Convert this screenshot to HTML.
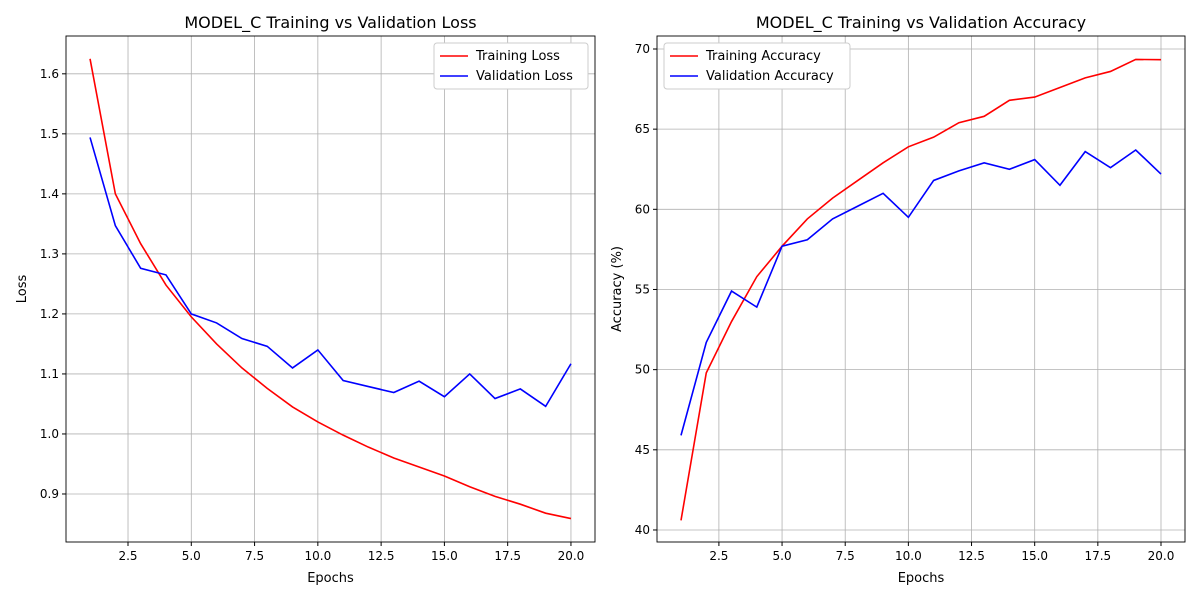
<!DOCTYPE html>
<html><head><meta charset="utf-8"><style>body{margin:0;background:#fff}svg text{font-family:"DejaVu Sans","Liberation Sans",sans-serif}</style></head>
<body>
<svg id="c" width="1200" height="600" xmlns="http://www.w3.org/2000/svg"></svg>
<script>
const epochs=[1,2,3,4,5,6,7,8,9,10,11,12,13,14,15,16,17,18,19,20];
const trainLoss=[1.625,1.40,1.317,1.248,1.195,1.150,1.110,1.076,1.045,1.020,0.998,0.978,0.960,0.945,0.930,0.912,0.896,0.883,0.868,0.859];
const valLoss=[1.494,1.347,1.276,1.265,1.200,1.185,1.159,1.146,1.110,1.140,1.089,1.079,1.069,1.088,1.062,1.100,1.059,1.075,1.046,1.117];
const trainAcc=[40.6,49.8,53.0,55.8,57.7,59.4,60.7,61.8,62.9,63.9,64.5,65.4,65.8,66.8,67.0,67.6,68.2,68.6,69.35,69.33];
const valAcc=[45.9,51.7,54.9,53.9,57.7,58.1,59.4,60.2,61.0,59.5,61.8,62.4,62.9,62.5,63.1,61.5,63.6,62.6,63.7,62.2];
const xTicks=[2.5,5.0,7.5,10.0,12.5,15.0,17.5,20.0];
const lossTicks=[0.9,1.0,1.1,1.2,1.3,1.4,1.5,1.6];
const accTicks=[40,45,50,55,60,65,70];
const svg=document.getElementById('c');
const NS='http://www.w3.org/2000/svg';
function mk(t,a,p){const e=document.createElementNS(NS,t);for(const k in a)e.setAttribute(k,a[k]);(p||svg).appendChild(e);return e;}
function panel(o){
  const g=mk('g',{});
  
  
  const L=o.l,R=o.r,T=36,B=542;
  const sx=v=>L+(v-0.05)/(20.9)*(R-L);
  const sy=v=>B-(v-o.ymin)/(o.ymax-o.ymin)*(B-T);
  xTicks.forEach(t=>{const x=sx(t);
    const gl=mk('line',{x1:x,x2:x,y1:T,y2:B,stroke:'#b0b0b0','stroke-width':0.8},g);
    
    mk('line',{x1:x,x2:x,y1:B,y2:B+4,stroke:'#000'},g);
    const tx=mk('text',{x:x,y:B+18,'text-anchor':'middle','font-size':12},g);tx.textContent=t.toFixed(1);
    });
  o.ticks.forEach(t=>{const y=sy(t);
    const gl=mk('line',{x1:L,x2:R,y1:y,y2:y,stroke:'#b0b0b0','stroke-width':0.8},g);
    
    mk('line',{x1:L-4,x2:L,y1:y,y2:y,stroke:'#000'},g);
    const tx=mk('text',{x:L-7,y:y+4,'text-anchor':'end','font-size':12},g);tx.textContent=o.fmt(t);
    });
  o.series.forEach(s=>{const pl=mk('polyline',{points:epochs.map((e,i)=>sx(e)+','+sy(s.d[i])).join(' '),fill:'none',stroke:s.c,'stroke-width':1.6},g);
    });
  const fr=mk('rect',{x:L,y:T,width:R-L,height:B-T,fill:'none',stroke:'#000','stroke-width':0.9},g);
  
  const ti=mk('text',{x:(L+R)/2,y:28,'text-anchor':'middle','font-size':16},g);ti.textContent=o.title;
  
  const xl=mk('text',{x:(L+R)/2,y:582,'text-anchor':'middle','font-size':13},g);xl.textContent='Epochs';
  
  const yl=mk('text',{x:0,y:0,'text-anchor':'middle','font-size':13,transform:`translate(${o.ylx},${(T+B)/2}) rotate(-90)`},g);yl.textContent=o.ylabel;
  
  const lg=mk('g',{},g);
  mk('rect',{x:o.lgx,y:43,width:o.lgw,height:46,fill:'#fff',stroke:'#ccc',rx:3},lg);
  o.series.forEach((s,i)=>{const y=56+i*20;
    mk('line',{x1:o.lgx+6,x2:o.lgx+34,y1:y,y2:y,stroke:s.c,'stroke-width':1.6},lg);
    const t=mk('text',{x:o.lgx+42,y:y+4,'font-size':13},lg);t.textContent=s.label;
    });
}
panel({name:'loss-panel',l:66,r:595,ymin:0.82,ymax:1.663,ticks:lossTicks,fmt:v=>v.toFixed(1),title:'MODEL_C Training vs Validation Loss',ylabel:'Loss',ylx:26,lgx:434,lgw:154,
 series:[{n:'training-loss-line',c:'#ff0000',d:trainLoss,label:'Training Loss'},{n:'validation-loss-line',c:'#0000ff',d:valLoss,label:'Validation Loss'}]});
panel({name:'accuracy-panel',l:657,r:1185,ymin:39.25,ymax:70.81,ticks:accTicks,fmt:v=>String(v),title:'MODEL_C Training vs Validation Accuracy',ylabel:'Accuracy (%)',ylx:621,lgx:664,lgw:186,
 series:[{n:'training-accuracy-line',c:'#ff0000',d:trainAcc,label:'Training Accuracy'},{n:'validation-accuracy-line',c:'#0000ff',d:valAcc,label:'Validation Accuracy'}]});
</script>
</body></html>
